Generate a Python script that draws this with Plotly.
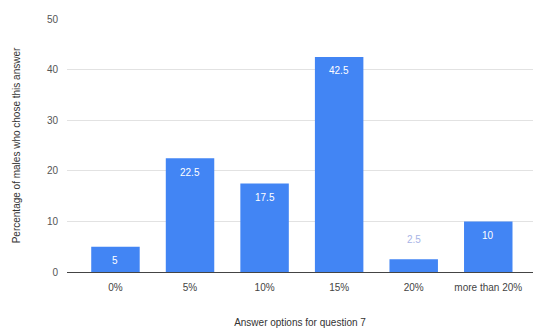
import plotly.graph_objects as go

categories = ["0%", "5%", "10%", "15%", "20%", "more than 20%"]
percent_males = [5, 22.5, 17.5, 42.5, 2.5, 10]
y_ticks = [0, 10, 20, 30, 40, 50]

bar_color = "#4285F4"
font_family = "Liberation Sans, Arial, sans-serif"

fig = go.Figure(
    go.Bar(
        x=categories,
        y=percent_males,
        marker=dict(color=bar_color, line=dict(width=0)),
        width=0.65,
        hoverinfo="x+y",
    )
)

# Value labels: white inside tall bars, light blue above short ones
annotations = []
for cat, val in zip(categories, percent_males):
    inside = val >= 5
    annotations.append(
        dict(
            x=cat,
            y=val,
            text=f"{val:g}",
            showarrow=False,
            yshift=-14 if inside else 20,
            font=dict(family=font_family, size=10,
                      color="#ffffff" if inside else "#a8b4e6"),
        )
    )

fig.update_layout(
    width=533,
    height=333,
    margin=dict(l=67, r=0, t=19, b=61),
    paper_bgcolor="white",
    plot_bgcolor="white",
    showlegend=False,
    font=dict(family=font_family, size=10, color="#444444"),
    annotations=annotations,
    xaxis=dict(
        range=[-0.65, 5.6],
        showgrid=False,
        showline=False,
        ticks="",
        ticklabelstandoff=8,
        tickfont=dict(size=10, color="#444444"),
        title=dict(text="Answer options for question 7",
                   font=dict(size=10, color="#333333"), standoff=26),
        automargin=False,
    ),
    yaxis=dict(
        range=[0, 50],
        tickvals=y_ticks,
        showgrid=True,
        gridcolor="#e2e2e2",
        gridwidth=1,
        zeroline=True,
        zerolinecolor="#444444",
        zerolinewidth=1,
        ticks="",
        ticklabelstandoff=8,
        tickfont=dict(size=10, color="#555555"),
        title=dict(text="Percentage of males who chose this answer",
                   font=dict(size=10, color="#333333"), standoff=24),
        automargin=False,
    ),
)

fig.write_html("out.html")
